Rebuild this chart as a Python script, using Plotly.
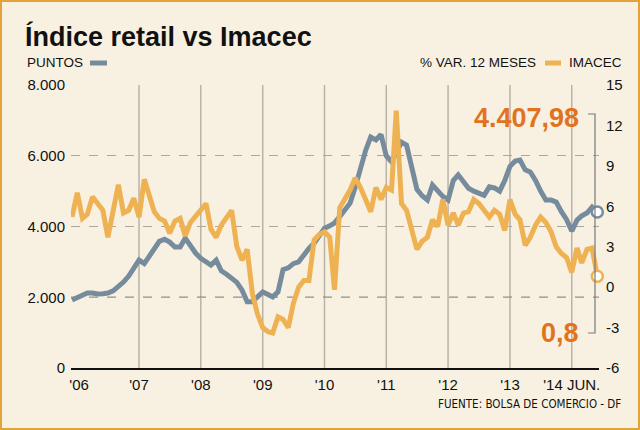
import pandas as pd
import plotly.graph_objects as go

# ---------------- data ----------------
dates = pd.date_range("2005-12-01", "2014-06-01", freq="MS")

retail = [
    1920, 2000, 2080, 2120, 2120, 2090, 2100, 2120, 2180, 2290,
    2430, 2600, 2800, 3050, 2950, 3150, 3350, 3580, 3640, 3560,
    3420, 3420, 3670, 3450, 3250, 3100, 3000, 2910, 3050, 2750,
    2650, 2540, 2420, 2200, 1870, 1870, 2000, 2150, 2080, 2010,
    2150, 2780, 2830, 2950, 3000, 3200, 3380, 3530, 3750, 3950,
    4020, 4100, 4280, 4450, 4660, 5100, 5650, 6150, 6530, 6450,
    6600, 6000, 5830, 6080, 6380, 6300, 5600, 5050, 4870, 4750,
    5170, 5000, 4850, 4750, 5300, 5460, 5280, 5080, 5000, 4950,
    4880, 5120, 5090, 5000, 5300, 5700, 5850, 5880, 5600, 5540,
    5300, 5000, 4750, 4750, 4690, 4420, 4200, 3870, 4180, 4300,
    4380, 4550, 4407.98,
]

imacec = [
    5.2, 7.0, 5.1, 5.4, 6.7, 6.2, 5.7, 3.7, 5.9, 7.6,
    5.5, 5.7, 6.6, 5.2, 8.0, 6.8, 5.6, 5.1, 4.9, 4.0,
    4.9, 5.1, 3.8, 4.8, 5.3, 5.7, 6.2, 4.3, 3.7, 4.6,
    5.2, 5.7, 3.0, 2.0, 2.8, -0.5, -2.0, -3.0, -3.3, -3.4,
    -2.2, -2.4, -3.0, -1.2, 0.0, 0.5, 0.5, 3.5, 3.9, 4.1,
    3.7, -0.2, 5.9, 6.5, 7.2, 8.1, 7.4, 6.5, 5.6, 7.4,
    6.5, 7.4, 7.2, 13.1, 6.2, 5.7, 4.2, 2.8, 3.4, 3.7,
    5.0, 4.5, 6.5, 4.6, 5.5, 4.6, 5.5, 5.6, 6.5, 6.2,
    5.7, 5.2, 5.7, 5.4, 4.2, 6.5, 5.4, 5.0, 3.1, 3.7,
    4.6, 5.2, 4.8, 4.1, 3.0, 2.5, 2.2, 1.1, 2.9, 1.8,
    2.8, 2.9, 0.8,
]

left_ticks = [0, 2000, 4000, 6000, 8000]
left_ticktext = ["0", "2.000", "4.000", "6.000", "8.000"]
right_ticks = [-6, -3, 0, 3, 6, 9, 12, 15]
right_ticktext = ["-6", "-3", "0", "3", "6", "9", "12", "15"]
x_tickvals = ["2006-01-12", "2007-01-01", "2008-01-01", "2009-01-01", "2010-01-01",
              "2011-01-01", "2012-01-01", "2013-01-01", "2014-01-01"]
x_ticktext = ["'06", "'07", "'08", "'09", "'10", "'11", "'12", "'13", "'14 JUN."]
year_lines = ["2007-01-01", "2008-01-01", "2009-01-01", "2010-01-01",
              "2011-01-01", "2012-01-01", "2013-01-01", "2014-01-01"]

title = "Índice retail vs Imacec"
last_retail_label = "4.407,98"
last_imacec_label = "0,8"

# ---------------- style ----------------
W, H = 640, 430
L, R, T, B = 71, 599, 85, 368
BG = "#f8f1e2"
GREY = "#768c9d"
ORANGE = "#efb253"
TXT_ORANGE = "#e2731e"
BORDER = "#e4a23a"
FONT = "Liberation Sans"
NARROW = "DejaVu Sans Condensed"


def px(x):
    return (x - L) / (R - L)


def py(y):
    return (B - y) / (B - T)


fig = go.Figure()
fig.add_trace(go.Scatter(x=dates, y=retail, mode="lines", yaxis="y",
                         line=dict(color=GREY, width=5), hoverinfo="skip"))
fig.add_trace(go.Scatter(x=dates, y=imacec, mode="lines", yaxis="y2",
                         line=dict(color=ORANGE, width=5), hoverinfo="skip"))
fig.add_trace(go.Scatter(x=[dates[-1]], y=[retail[-1]], mode="markers", yaxis="y",
                         marker=dict(size=11, color="white", line=dict(color=GREY, width=2.5)),
                         hoverinfo="skip", cliponaxis=False))
fig.add_trace(go.Scatter(x=[dates[-1]], y=[imacec[-1]], mode="markers", yaxis="y2",
                         marker=dict(size=11, color="white", line=dict(color=ORANGE, width=2.5)),
                         hoverinfo="skip", cliponaxis=False))

shapes = []
for d in year_lines:
    shapes.append(dict(type="line", xref="x", yref="paper", x0=d, x1=d, y0=0, y1=1,
                       line=dict(color="#b9b2a7", width=1.5), layer="below"))
shapes.append(dict(type="line", xref="paper", yref="y", x0=0, x1=1, y0=2000, y1=2000,
                   line=dict(color="#333333", width=1, dash="dash"), layer="below"))
# bracket
shapes.append(dict(type="path", xref="paper", yref="paper",
                   path=f"M {px(588)} {py(114)} L {px(595)} {py(114)} L {px(595)} {py(333)} L {px(588)} {py(333)}",
                   line=dict(color="#7a7a7a", width=1.2)))
# legend swatches
shapes.append(dict(type="line", xref="paper", yref="paper", x0=px(90), x1=px(107), y0=py(63), y1=py(63),
                   line=dict(color=GREY, width=5)))
shapes.append(dict(type="line", xref="paper", yref="paper", x0=px(545), x1=px(561), y0=py(63), y1=py(63),
                   line=dict(color=ORANGE, width=5)))
# outer border
shapes.append(dict(type="rect", xref="paper", yref="paper", x0=px(1), x1=px(639), y0=py(1), y1=py(429),
                   line=dict(color=BORDER, width=2)))

annotations = [
    dict(text=f"<b>{title}</b>", x=px(23), y=py(37), xanchor="left", yanchor="middle",
         font=dict(family=FONT, size=27, color="#111111")),
    dict(text="PUNTOS", x=px(25), y=py(62), xanchor="left", yanchor="middle",
         font=dict(family=FONT, size=13.5, color="#111111")),
    dict(text="% VAR. 12 MESES", x=px(538), y=py(62), xanchor="right", yanchor="middle",
         font=dict(family=FONT, size=13.5, color="#111111")),
    dict(text="IMACEC", x=px(567), y=py(62), xanchor="left", yanchor="middle",
         font=dict(family=FONT, size=13.5, color="#111111")),
    dict(text=f"<b>{last_retail_label}</b>", x=px(581), y=py(118), xanchor="right", yanchor="middle",
         font=dict(family=FONT, size=27, color=TXT_ORANGE)),
    dict(text=f"<b>{last_imacec_label}</b>", x=px(581), y=py(333), xanchor="right", yanchor="middle",
         font=dict(family=FONT, size=27, color=TXT_ORANGE)),
    dict(text="FUENTE: BOLSA DE COMERCIO - DF", x=px(623), y=py(404), xanchor="right", yanchor="middle",
         font=dict(family=NARROW, size=11.5, color="#111111")),
]
for a in annotations:
    a.update(xref="paper", yref="paper", showarrow=False)

fig.update_layout(
    width=W, height=H,
    margin=dict(l=L, r=W - R, t=T, b=H - B, pad=0),
    paper_bgcolor=BG, plot_bgcolor=BG,
    showlegend=False,
    shapes=shapes, annotations=annotations,
    xaxis=dict(type="date", range=["2005-11-25", "2014-06-11"], showgrid=False, zeroline=False,
               showline=True, linecolor="#111111", linewidth=2, ticks="",
               tickvals=x_tickvals, ticktext=x_ticktext, ticklabelstandoff=2,
               tickfont=dict(family=FONT, size=15, color="#111111")),
    yaxis=dict(range=[0, 8000], tickvals=left_ticks, ticktext=left_ticktext,
               showgrid=True, gridcolor="#aca69c", griddash="dash", gridwidth=1,
               zeroline=False, showline=False, ticks="", ticklabelstandoff=5,
               tickfont=dict(family=FONT, size=15, color="#111111")),
    yaxis2=dict(range=[-6, 15], overlaying="y", side="right", tickvals=right_ticks,
                ticktext=right_ticktext, showgrid=False, zeroline=False, showline=False,
                ticks="", ticklabelstandoff=6,
                tickfont=dict(family=FONT, size=15, color="#111111")),
)

fig.write_html("out.html")
